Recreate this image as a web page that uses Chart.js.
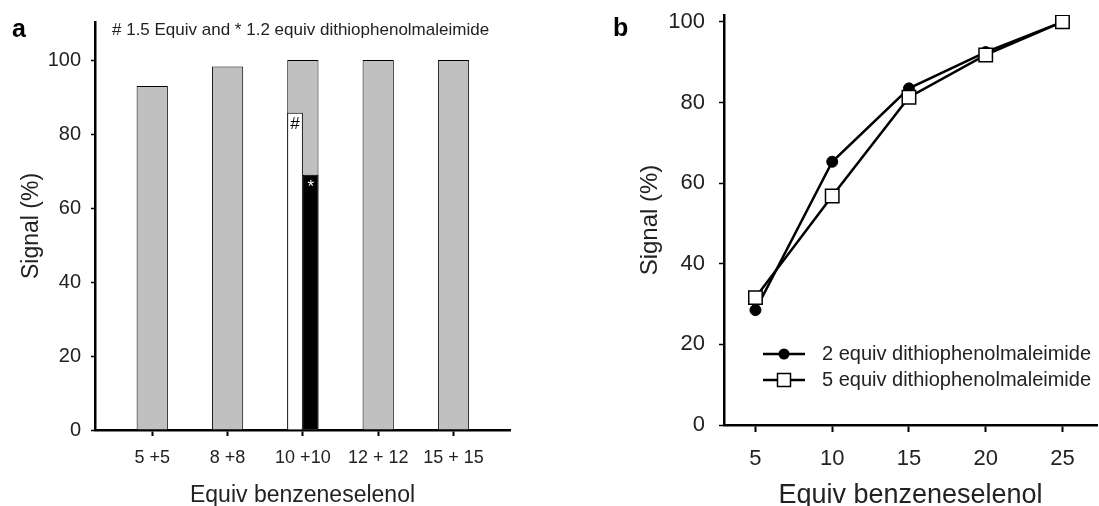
<!DOCTYPE html>
<html>
<head>
<meta charset="utf-8">
<script src="https://cdn.jsdelivr.net/npm/chart.js@4/dist/chart.umd.min.js"></script>
<style>
  body { margin: 0; background: #fff; }
  #wrap { position: relative; width: 1099px; height: 506px; overflow: hidden; }
  canvas { position: absolute; top: 0; }
  #chartA { left: 0; }
  #chartB { left: 600px; }
  .panel { position: absolute; font: bold 25px "Liberation Sans", Arial, sans-serif; color: #000; }
</style>
</head>
<body>
<div id="wrap">
  <canvas id="chartA" width="560" height="506"></canvas>
  <canvas id="chartB" width="499" height="506"></canvas>
  <div class="panel" style="left:12px; top:14px;">a</div>
  <div class="panel" style="left:613px; top:13px;">b</div>
</div>
<script>
// panel a : signal vs equiv of benzeneselenol
const categories = ['5 +5', '8 +8', '10 +10', '12 + 12', '15 + 15'];
const signalA = [93, 98.3, 100, 100, 100];
const hash15 = [null, null, 85.8, null, null];   // # 1.5 equiv
const star12 = [null, null, 69, null, null];     // * 1.2 equiv
const yTicksA = [0, 20, 40, 60, 80, 100];

// panel b : signal vs equiv, two dithiophenolmaleimide loads
const equivB = [5, 10, 15, 20, 25];
const twoEquiv = [28.5, 65.3, 83.5, 92.5, 100];
const fiveEquiv = [31.6, 56.8, 81.3, 91.8, 100];
const yTicksB = [0, 20, 40, 60, 80, 100];
const legendB = ['2 equiv dithiophenolmaleimide', '5 equiv dithiophenolmaleimide'];

const FONT = '"Liberation Sans", Arial, sans-serif';
const TXT = '#222';
Chart.defaults.font.family = FONT;
Chart.defaults.color = TXT;
Chart.defaults.animation = false;

function toPoints(xs, ys) {
    return ys.map((v, i) => ({ x: xs[i], y: v }));
}
const idx = categories.map((c, i) => i + 1);

// fixed box sizes, no extra room for overhanging tick labels
function fixBox(w, h) {
    return (axis) => {
        if (w) axis.width = w;
        if (h) axis.height = h;
        axis.paddingTop = axis.paddingBottom = axis.paddingLeft = axis.paddingRight = 0;
    };
}

// note text + the # / * marks on the 10 + 10 bars
const markersA = {
    id: 'markersA',
    afterDatasetsDraw(chart) {
        const ctx = chart.ctx;
        const area = chart.chartArea;
        ctx.save();
        ctx.font = '17px ' + FONT;
        ctx.fillStyle = TXT;
        ctx.textBaseline = 'middle';
        ctx.textAlign = 'left';
        ctx.fillText('# 1.5 Equiv and * 1.2 equiv dithiophenolmaleimide', area.left + 17, area.top + 8);

        ctx.textAlign = 'center';
        ctx.textBaseline = 'top';
        ctx.font = '17px ' + FONT;
        chart.getDatasetMeta(1).data.forEach((bar, i) => {
            if (hash15[i] == null) return;
            ctx.fillStyle = '#000';
            ctx.fillText('#', bar.x, bar.y + 3);
        });
        chart.getDatasetMeta(2).data.forEach((bar, i) => {
            if (star12[i] == null) return;
            ctx.fillStyle = '#fff';
            ctx.fillText('*', bar.x, bar.y + 4);
        });
        ctx.restore();
    }
};

new Chart(document.getElementById('chartA'), {
    type: 'bar',
    data: {
        datasets: [
            {
                data: toPoints(idx, signalA),
                backgroundColor: '#c0c0c0',
                borderColor: '#000',
                borderWidth: 1,
                grouped: false,
                categoryPercentage: 1,
                barPercentage: 0.415,
                order: 2
            },
            {
                data: toPoints(idx, hash15),
                backgroundColor: '#fff',
                borderColor: '#000',
                borderWidth: 1,
                categoryPercentage: 0.415,
                barPercentage: 1,
                order: 1
            },
            {
                data: toPoints(idx, star12),
                backgroundColor: '#000',
                borderColor: '#000',
                borderWidth: 1,
                categoryPercentage: 0.415,
                barPercentage: 1,
                order: 1
            }
        ]
    },
    options: {
        responsive: false,
        layout: { autoPadding: false, padding: { top: 22, right: 50, bottom: 0, left: 0 } },
        plugins: { legend: { display: false }, tooltip: { enabled: false } },
        scales: {
            x: {
                type: 'linear',
                min: 0.24,
                max: 5.75,
                offset: false,
                afterBuildTicks: (axis) => { axis.ticks = idx.map(v => ({ value: v })); },
                afterFit: fixBox(0, 76),
                ticks: {
                    autoSkip: false,
                    maxRotation: 0,
                    padding: 11,
                    font: { size: 18 },
                    callback: (v) => categories[v - 1]
                },
                grid: { offset: false, drawOnChartArea: false, tickLength: 6, tickColor: '#000', tickWidth: 2 },
                border: { color: '#000', width: 2.5 },
                title: {
                    display: true,
                    text: 'Equiv benzeneselenol',
                    font: { size: 23, lineHeight: 1 },
                    padding: { top: 0, bottom: -1 }
                }
            },
            y: {
                min: 0,
                max: 110.3,
                afterBuildTicks: (axis) => { axis.ticks = yTicksA.map(v => ({ value: v })); },
                afterFit: fixBox(95, 0),
                ticks: { padding: 10, font: { size: 20 } },
                grid: { drawOnChartArea: false, tickLength: 4, tickColor: '#000', tickWidth: 1.5 },
                border: { color: '#000', width: 2.5 },
                title: {
                    display: true,
                    text: 'Signal (%)',
                    font: { size: 23 },
                    padding: { top: 18, bottom: 0 }
                }
            }
        }
    },
    plugins: [markersA]
});

// legend drawn as line + marker, like the plot symbols
const legendPlotB = {
    id: 'legendPlotB',
    afterDraw(chart) {
        const ctx = chart.ctx;
        const area = chart.chartArea;
        const x0 = area.left + 39, x1 = area.left + 81, xm = (x0 + x1) / 2;
        const rows = [area.top + 339, area.top + 365];
        ctx.save();
        rows.forEach((y, i) => {
            ctx.strokeStyle = '#000';
            ctx.lineWidth = 2.5;
            ctx.beginPath();
            ctx.moveTo(x0, y);
            ctx.lineTo(x1, y);
            ctx.stroke();
            ctx.lineWidth = 1.5;
            if (i === 0) {
                ctx.fillStyle = '#000';
                ctx.beginPath();
                ctx.arc(xm, y, 5.5, 0, Math.PI * 2);
                ctx.fill();
            } else {
                ctx.fillStyle = '#fff';
                ctx.fillRect(xm - 6.5, y - 6.5, 13, 13);
                ctx.strokeRect(xm - 6.5, y - 6.5, 13, 13);
            }
            ctx.fillStyle = TXT;
            ctx.font = '20px ' + FONT;
            ctx.textBaseline = 'middle';
            ctx.textAlign = 'left';
            ctx.fillText(legendB[i], x1 + 17, y);
        });
        ctx.restore();
    }
};

new Chart(document.getElementById('chartB'), {
    type: 'line',
    data: {
        datasets: [
            {
                label: legendB[0],
                data: toPoints(equivB, twoEquiv),
                borderColor: '#000',
                borderWidth: 2.5,
                pointStyle: 'circle',
                pointRadius: 5.5,
                pointBackgroundColor: '#000',
                pointBorderColor: '#000',
                pointBorderWidth: 1,
                tension: 0,
                order: 1
            },
            {
                label: legendB[1],
                data: toPoints(equivB, fiveEquiv),
                borderColor: '#000',
                borderWidth: 2.5,
                pointStyle: 'rect',
                pointRadius: 9.5,
                pointBackgroundColor: '#fff',
                pointBorderColor: '#000',
                pointBorderWidth: 1.5,
                tension: 0,
                order: 0
            }
        ]
    },
    options: {
        responsive: false,
        layout: { autoPadding: false, padding: { top: 15, right: 2, bottom: 0, left: 0 } },
        plugins: { legend: { display: false }, tooltip: { enabled: false } },
        scales: {
            x: {
                type: 'linear',
                min: 2.95,
                max: 27.25,
                afterBuildTicks: (axis) => { axis.ticks = equivB.map(v => ({ value: v })); },
                afterFit: fixBox(0, 81),
                ticks: { padding: 14, maxRotation: 0, font: { size: 22 } },
                grid: { drawOnChartArea: false, tickLength: 7, tickColor: '#000', tickWidth: 2 },
                border: { color: '#000', width: 2.5 },
                title: {
                    display: true,
                    text: 'Equiv benzeneselenol',
                    font: { size: 27, lineHeight: 1 },
                    padding: { top: 0, bottom: -3 }
                }
            },
            y: {
                min: 0,
                max: 101.7,
                afterBuildTicks: (axis) => { axis.ticks = yTicksB.map(v => ({ value: v })); },
                afterFit: fixBox(124, 0),
                ticks: { padding: 14, font: { size: 22 } },
                grid: { drawOnChartArea: false, tickLength: 5, tickColor: '#000', tickWidth: 1.5 },
                border: { color: '#000', width: 2.5 },
                title: {
                    display: true,
                    text: 'Signal (%)',
                    font: { size: 24 },
                    padding: { top: 36, bottom: 0 }
                }
            }
        }
    },
    plugins: [legendPlotB]
});
</script>
</body>
</html>
